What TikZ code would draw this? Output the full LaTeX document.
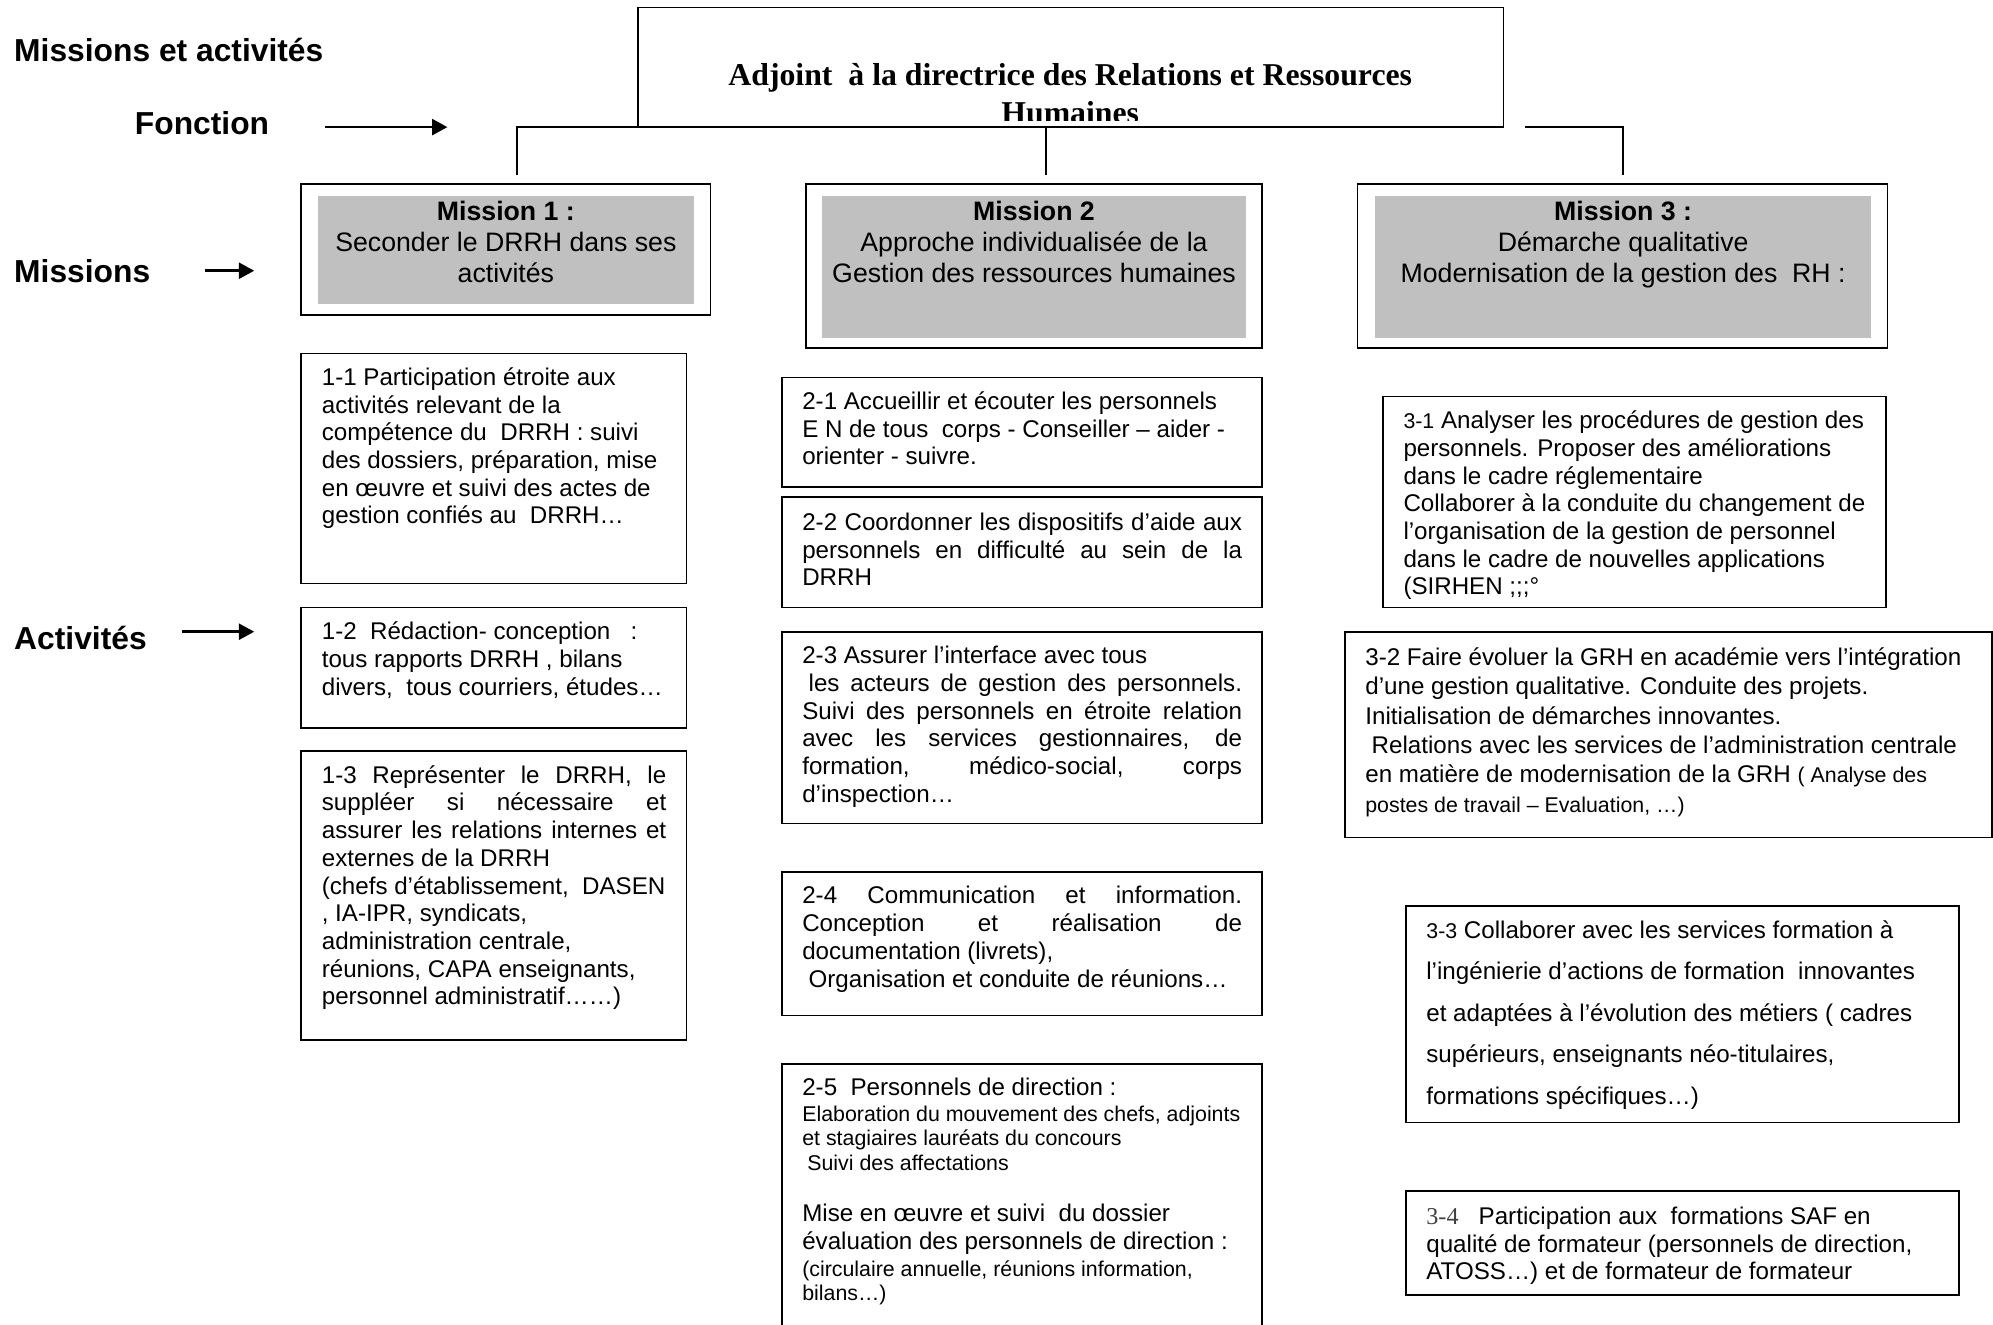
\documentclass[tikz,border=0pt]{standalone}
\usepackage{fontspec}
\setmainfont{Liberation Sans}
\newfontfamily\tnr{Liberation Serif}
\usetikzlibrary{arrows.meta}
\newcommand\fst{\rule{0pt}{16pt}}
\newcommand\sst{\rule{0pt}{14pt}}
\newcommand\mst{\rule{0pt}{17pt}}
\newcommand\J[2][346pt]{\makebox[#1][s]{#2}}
\newcommand\sm[1]{{\fontsize{16.8}{19.3}\selectfont #1}}
\definecolor{mgray}{HTML}{C0C0C0}
\begin{document}
\begin{tikzpicture}[x=1pt,y=-1pt,line join=miter,
  box/.style={draw=black,line width=1.3pt,inner sep=0pt,outer sep=0pt,anchor=north west,fill=white},
  gbox/.style={fill=mgray,draw=none,inner sep=0pt,outer sep=0pt,anchor=north west},
  atext/.style={anchor=north west,inner sep=0pt,align=left,font=\fontsize{19}{21.8}\selectfont},
  stext/.style={anchor=north west,inner sep=0pt,align=left,font=\fontsize{16.8}{19.3}\selectfont},
  mtext/.style={anchor=north,inner sep=0pt,align=center,font=\fontsize{21}{24.5}\selectfont},
  lab/.style={anchor=base west,inner sep=0pt,font=\bfseries\fontsize{25}{30}\selectfont},
  arr/.style={line width=2pt,-{Triangle[length=12pt,width=12.5pt]}},
  conn/.style={line width=1.3pt}]
\useasboundingbox (0,0) rectangle (1568,1042);
\begin{scope}
\clip (0,0) rectangle (1568,1042);

% headings
\node[lab] (hma) at (11,48) {Missions et activités};
\node[lab] (hfo) at (106,106) {Fonction};
\node[lab] (hmi) at (11,222) {Missions};
\node[lab] (hac) at (11,511) {Activités};
\coordinate (fa1) at (256,100); \coordinate (fa2) at (352,100);
\coordinate (ma1) at (161,213); \coordinate (ma2) at (200,213);
\coordinate (aa1) at (143,497); \coordinate (aa2) at (200,497);
\draw[arr] (fa1) -- (fa2);
\draw[arr] (ma1) -- (ma2);
\draw[arr] (aa1) -- (aa2);

% title box
\node[box,minimum width=681pt,minimum height=94pt] (title) at (502,6) {};
\begin{scope}
\clip (503,7) rectangle (1182,95);
\node[anchor=north,inner sep=0pt,align=center,font=\tnr\bfseries\fontsize{25}{30}\selectfont] (ttext) at (842,47)
  {\rule{0pt}{20pt}Adjoint\ \ à la directrice des Relations et Ressources\\Humaines};
\end{scope}

% connectors
\coordinate (c1t) at (407,100); \coordinate (c1) at (407,138);
\coordinate (c2t) at (823,100); \coordinate (c2) at (823,138);
\coordinate (c3a) at (1200,100); \coordinate (c3t) at (1277,100); \coordinate (c3) at (1277,138);
\draw[conn] (c1) -- (c1t) -- (title.south west);
\draw[conn] (c2t) -- (c2);
\draw[conn] (c3a) -- (c3t) -- (c3);

% mission boxes
\node[box,minimum width=322pt,minimum height=103pt] (m1) at (237,145) {};
\node[gbox,minimum width=296pt,minimum height=85pt] (m1g) at (250,154) {};
\node[mtext] (m1t) at (398,156) {\mst\textbf{Mission 1 :}\\Seconder le DRRH dans ses\\activités};

\node[box,minimum width=359pt,minimum height=129pt] (m2) at (634,145) {};
\node[gbox,minimum width=333pt,minimum height=112pt] (m2g) at (647,154) {};
\node[mtext] (m2t) at (813.5,156) {\mst\textbf{Mission 2}\\Approche individualisée de la\\Gestion des ressources humaines};

\node[box,minimum width=417pt,minimum height=129pt] (m3) at (1068,145) {};
\node[gbox,minimum width=390pt,minimum height=112pt] (m3g) at (1082,154) {};
\node[mtext] (m3t) at (1277,156) {\mst\textbf{Mission 3 :}\\Démarche qualitative\\Modernisation de la gestion des\ \ RH :};

% column 1
\node[box,minimum width=303pt,minimum height=181pt] (a11) at (237,278) {};
\node[atext] (t11) at (253,287) {\fst 1-1 Participation étroite aux\\activités relevant de la\\compétence du\ \ DRRH : suivi\\des dossiers, préparation, mise\\en œuvre et suivi des actes de\\gestion confiés au\ \ DRRH…};

\node[box,minimum width=303pt,minimum height=95pt] (a12) at (237,478) {};
\node[atext] (t12) at (253,487) {\fst 1-2\ \ Rédaction- conception\ \ \ :\\tous rapports DRRH , bilans\\divers,\ \ tous courriers, études…};

\node[box,minimum width=303pt,minimum height=227pt] (a13) at (237,591) {};
\node[atext] (t13) at (253,600) {\fst\J[271pt]{1-3 Représenter le DRRH, le}\\\J[271pt]{suppléer si nécessaire et}\\\J[271pt]{assurer les relations internes et}\\externes de la DRRH\\(chefs d’établissement,\ \ DASEN\\, IA-IPR, syndicats,\\administration centrale,\\réunions, CAPA enseignants,\\personnel administratif……)};

% column 2
\node[box,minimum width=378pt,minimum height=86pt] (a21) at (615,297) {};
\node[atext] (t21) at (631,306) {\fst 2-1 Accueillir et écouter les personnels\\E N de tous\ \ corps - Conseiller – aider -\\orienter - suivre.};

\node[box,minimum width=378pt,minimum height=87pt] (a22) at (615,391) {};
\node[atext] (t22) at (631,401) {\fst\J{2-2 Coordonner les dispositifs d’aide aux}\\\J{personnels en difficulté au sein de la}\\DRRH};

\node[box,minimum width=378pt,minimum height=151pt] (a23) at (615,497) {};
\node[atext] (t23) at (631,506) {\fst 2-3 Assurer l’interface avec tous\\\J{\hspace*{5pt}les acteurs de gestion des personnels.}\\\J{Suivi des personnels en étroite relation}\\\J{avec les services gestionnaires, de}\\\J{formation, médico-social, corps}\\d’inspection…};

\node[box,minimum width=378pt,minimum height=113pt] (a24) at (615,686) {};
\node[atext] (t24) at (631,695) {\fst\J{2-4 Communication et information.}\\\J{Conception et réalisation de}\\documentation (livrets),\\\hspace*{5pt}Organisation et conduite de réunions…};

\node[box,minimum width=378pt,minimum height=220pt] (a25) at (615,837) {};
\node[atext] (t25a) at (631,846) {\fst 2-5\ \ Personnels de direction :};
\node[stext] (t25b) at (631,868) {\sst Elaboration du mouvement des chefs, adjoints\\et stagiaires lauréats du concours\\\hspace*{4pt}Suivi des affectations};
\node[atext] (t25c) at (631,945) {\fst Mise en œuvre et suivi\ \ du dossier\\évaluation des personnels de direction :};
\node[stext] (t25d) at (631,990) {\sst(circulaire annuelle, réunions information,\\bilans…)};

% column 3
\node[box,minimum width=396pt,minimum height=166pt] (a31) at (1088,312) {};
\node[atext] (t31) at (1104,321) {\fst\sm{3-1} Analyser les procédures de gestion des\\personnels. Proposer des améliorations\\dans le cadre réglementaire\\Collaborer à la conduite du changement de\\l’organisation de la gestion de personnel\\dans le cadre de nouvelles applications\\(SIRHEN ;;;°};

\node[box,minimum width=509pt,minimum height=162pt] (a32) at (1058,497) {};
\node[atext,font=\fontsize{19}{23.2}\selectfont] (t32) at (1074,507) {\fst 3-2 Faire évoluer la GRH en académie vers l’intégration\\d’une gestion qualitative. Conduite des projets.\\Initialisation de démarches innovantes.\\\hspace*{5pt}Relations avec les services de l’administration centrale\\en matière de modernisation de la GRH \sm{( Analyse des}\\\sm{postes de travail – Evaluation, …)}};

\node[box,minimum width=435pt,minimum height=170pt] (a33) at (1106,713) {};
\node[atext,font=\fontsize{19}{32.7}\selectfont] (t33) at (1122,722) {\fst\sm{3-3} Collaborer avec les services formation à\\l’ingénierie d’actions de formation\ \ innovantes\\et adaptées à l’évolution des métiers ( cadres\\supérieurs, enseignants néo-titulaires,\\formations spécifiques…)};

\node[box,minimum width=435pt,minimum height=82pt] (a34) at (1106,937) {};
\node[atext] (t34) at (1122,947) {\fst{\tnr\color{black!75}3-4}\ \ \ Participation aux\ \ formations SAF en\\qualité de formateur (personnels de direction,\\ATOSS…) et de formateur de formateur};
\end{scope}
\end{tikzpicture}
\end{document}
